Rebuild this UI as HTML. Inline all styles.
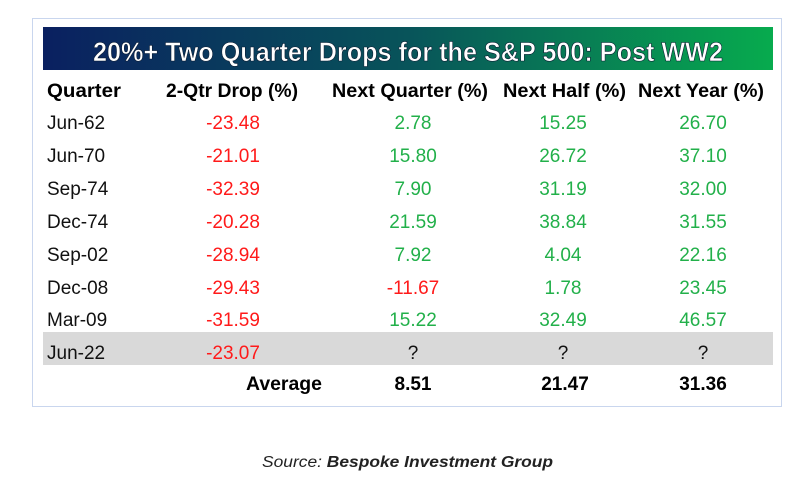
<!DOCTYPE html>
<html><head><meta charset="utf-8"><style>
html,body{margin:0;padding:0;background:#fff;width:811px;height:486px;overflow:hidden}
svg{display:block}
text{font-family:"Liberation Sans",sans-serif}
.h{font-weight:bold;font-size:19px;fill:#000}
.d{font-size:19px}
.r{fill:#ff1a1a}
.g{fill:#22b04a}
.k{fill:#111}
</style></head><body>
<svg width="811" height="486" viewBox="0 0 811 486" xmlns="http://www.w3.org/2000/svg">
<defs><linearGradient id="bg" x1="0" x2="1" y1="0" y2="0">
<stop offset="0" stop-color="#0a2060"/><stop offset="0.5" stop-color="#08545a"/><stop offset="1" stop-color="#07ab4e"/></linearGradient></defs>
<rect x="32.5" y="18.5" width="749" height="388" fill="#fff" stroke="#c9d6ee" stroke-width="1"/>
<rect x="43" y="27" width="730" height="43" fill="url(#bg)"/>
<text x="93" y="61" font-size="27" font-weight="bold" fill="#fff" stroke="#0a1a30" stroke-width="0.6" textLength="630" lengthAdjust="spacingAndGlyphs">20%+ Two Quarter Drops for the S&amp;P 500: Post WW2</text>
<text class="h" x="47" y="97" textLength="74" lengthAdjust="spacingAndGlyphs">Quarter</text>
<text class="h" x="166" y="97" textLength="132" lengthAdjust="spacingAndGlyphs">2-Qtr Drop (%)</text>
<text class="h" x="332" y="97" textLength="156" lengthAdjust="spacingAndGlyphs">Next Quarter (%)</text>
<text class="h" x="503" y="97" textLength="123" lengthAdjust="spacingAndGlyphs">Next Half (%)</text>
<text class="h" x="638" y="97" textLength="126" lengthAdjust="spacingAndGlyphs">Next Year (%)</text>
<rect x="43" y="332" width="730" height="33" fill="#d9d9d9"/>
<g class="d" text-anchor="middle">
<g transform="translate(0,129)">
<text class="k" x="47" text-anchor="start">Jun-62</text><text class="r" x="233">-23.48</text><text class="g" x="413">2.78</text><text class="g" x="563">15.25</text><text class="g" x="703">26.70</text></g>
<g transform="translate(0,162)">
<text class="k" x="47" text-anchor="start">Jun-70</text><text class="r" x="233">-21.01</text><text class="g" x="413">15.80</text><text class="g" x="563">26.72</text><text class="g" x="703">37.10</text></g>
<g transform="translate(0,195)">
<text class="k" x="47" text-anchor="start">Sep-74</text><text class="r" x="233">-32.39</text><text class="g" x="413">7.90</text><text class="g" x="563">31.19</text><text class="g" x="703">32.00</text></g>
<g transform="translate(0,228)">
<text class="k" x="47" text-anchor="start">Dec-74</text><text class="r" x="233">-20.28</text><text class="g" x="413">21.59</text><text class="g" x="563">38.84</text><text class="g" x="703">31.55</text></g>
<g transform="translate(0,261)">
<text class="k" x="47" text-anchor="start">Sep-02</text><text class="r" x="233">-28.94</text><text class="g" x="413">7.92</text><text class="g" x="563">4.04</text><text class="g" x="703">22.16</text></g>
<g transform="translate(0,294)">
<text class="k" x="47" text-anchor="start">Dec-08</text><text class="r" x="233">-29.43</text><text class="r" x="413">-11.67</text><text class="g" x="563">1.78</text><text class="g" x="703">23.45</text></g>
<g transform="translate(0,326)">
<text class="k" x="47" text-anchor="start">Mar-09</text><text class="r" x="233">-31.59</text><text class="g" x="413">15.22</text><text class="g" x="563">32.49</text><text class="g" x="703">46.57</text></g>
<g transform="translate(0,359)">
<text class="k" x="47" text-anchor="start">Jun-22</text><text class="r" x="233">-23.07</text><text class="k" x="413">?</text><text class="k" x="563">?</text><text class="k" x="703">?</text></g>
<g transform="translate(0,390)" font-weight="bold" fill="#000">
<text x="246" text-anchor="start" textLength="76" lengthAdjust="spacingAndGlyphs">Average</text><text x="413">8.51</text><text x="565">21.47</text><text x="703">31.36</text></g>
</g>
<text x="262" y="467" font-size="15.5" font-style="italic" fill="#222" textLength="291" lengthAdjust="spacingAndGlyphs">Source: <tspan font-weight="bold">Bespoke Investment Group</tspan></text>
</svg>
</body></html>
